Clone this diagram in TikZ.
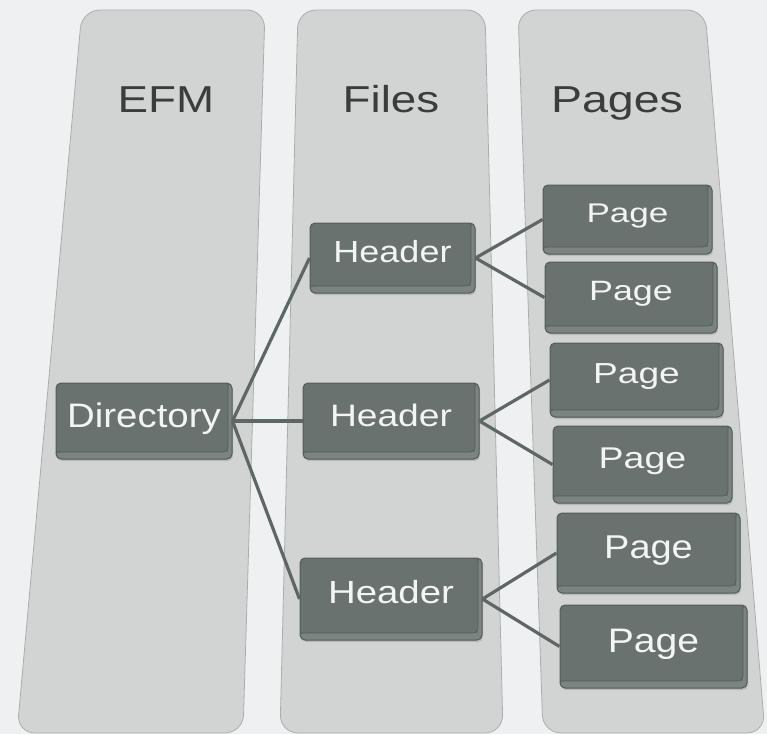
\documentclass[tikz,border=0pt]{standalone}
\usepackage{fontspec}
\usepackage{graphicx}
\setmainfont{Liberation Sans}
\usetikzlibrary{shadows}
\definecolor{bgc}{HTML}{EEF0F2}
\definecolor{colfill}{HTML}{D2D4D3}
\definecolor{coltop}{HTML}{D6D8D7}
\definecolor{coledge}{HTML}{A9AEAC}
\definecolor{boxfill}{HTML}{6A7270}
\definecolor{boxedge}{HTML}{535B59}
\definecolor{boxbev}{HTML}{7C8482}
\definecolor{linec}{HTML}{5E6765}
\definecolor{titlec}{HTML}{3A3D3D}
\definecolor{boxtext}{HTML}{F3F4F4}
\newcommand{\boxtxt}[4]{\raisebox{-#3pt}{\scalebox{#2}[1]{\fontsize{#1}{#1}\selectfont #4}}}
\tikzset{
  colpath/.style={fill=colfill, draw=coledge, line width=0.8pt, rounded corners=18pt},
  titletxt/.style={anchor=base, inner sep=0pt, text=titlec},
  cellbox/.style={draw=boxedge, fill=boxfill, line width=1pt, rounded corners=5pt,
    inner sep=0pt, text height=0pt, text depth=0pt, text=boxtext,
    drop shadow={opacity=0.3, shadow xshift=1pt, shadow yshift=-2pt},
    path picture={
      \fill[boxbev] ([yshift=7pt]path picture bounding box.south west) rectangle (path picture bounding box.south east);
      \fill[boxbev] ([xshift=-4pt]path picture bounding box.north east) rectangle (path picture bounding box.south east);
      \draw[boxedge, line width=0.6pt] ([yshift=7pt]path picture bounding box.south west) -- ([yshift=7pt,xshift=-4pt]path picture bounding box.south east) -- ([xshift=-4pt]path picture bounding box.north east);
    }},
  link/.style={draw=linec, line width=3.2pt}
}
\begin{document}
\begin{tikzpicture}[x=1pt, y=-1pt]
\useasboundingbox (0,0) rectangle (767,734);
\fill[bgc] (0,0) rectangle (767,734);
% columns
\path[colpath] (82,10) -- (265,10) -- (243,733) -- (17,733) -- cycle;
\path[colpath] (298,10) -- (485,10) -- (503,733) -- (280,733) -- cycle;
\path[colpath] (518,10) -- (705,10) -- (765,733) -- (543,733) -- cycle;
% titles
\node[titletxt] (tefm) at (166,112) {\scalebox{1.22}[1]{\fontsize{37.5}{40}\selectfont EFM}};
\node[titletxt] (tfiles) at (391,112) {\scalebox{1.22}[1]{\fontsize{37.5}{40}\selectfont Files}};
\node[titletxt] (tpages) at (617,112) {\scalebox{1.24}[1]{\fontsize{37.5}{40}\selectfont Pages}};
% boxes
\node[cellbox, minimum width=176pt, minimum height=76pt] (dir) at (144,421) {\boxtxt{34}{1.13}{6}{Directory}};
\node[cellbox, minimum width=165pt, minimum height=70pt] (h1) at (392.5,258) {\boxtxt{30.5}{1.18}{4}{Header}};
\node[cellbox, minimum width=176pt, minimum height=76pt] (h2) at (391,421) {\boxtxt{31}{1.2}{5}{Header}};
\node[cellbox, minimum width=182pt, minimum height=82pt] (h3) at (391,599) {\boxtxt{32}{1.2}{4}{Header}};
\node[cellbox, minimum width=169pt, minimum height=69pt] (p1) at (627.5,219.5) {\boxtxt{27}{1.3}{2.5}{Page}};
\node[cellbox, minimum width=172pt, minimum height=71pt] (p2) at (631,297.5) {\boxtxt{28}{1.28}{3}{Page}};
\node[cellbox, minimum width=173pt, minimum height=74pt] (p3) at (636.5,380) {\boxtxt{29}{1.28}{3}{Page}};
\node[cellbox, minimum width=179pt, minimum height=77pt] (p4) at (642.5,464.5) {\boxtxt{30}{1.25}{3.5}{Page}};
\node[cellbox, minimum width=183pt, minimum height=80pt] (p5) at (648.5,553) {\boxtxt{33}{1.15}{5}{Page}};
\node[cellbox, minimum width=187pt, minimum height=83pt] (p6) at (653.5,646.5) {\boxtxt{34}{1.15}{5.5}{Page}};
% connectors
\draw[link] (dir.east) -- (h1.west);
\draw[link] (dir.east) -- (h2.west);
\draw[link] (dir.east) -- (h3.west);
\draw[link] (h1.east) -- (p1.west);
\draw[link] (h1.east) -- (p2.west);
\draw[link] (h2.east) -- (p3.west);
\draw[link] (h2.east) -- (p4.west);
\draw[link] (h3.east) -- (p5.west);
\draw[link] (h3.east) -- (p6.west);
\end{tikzpicture}
\end{document}
